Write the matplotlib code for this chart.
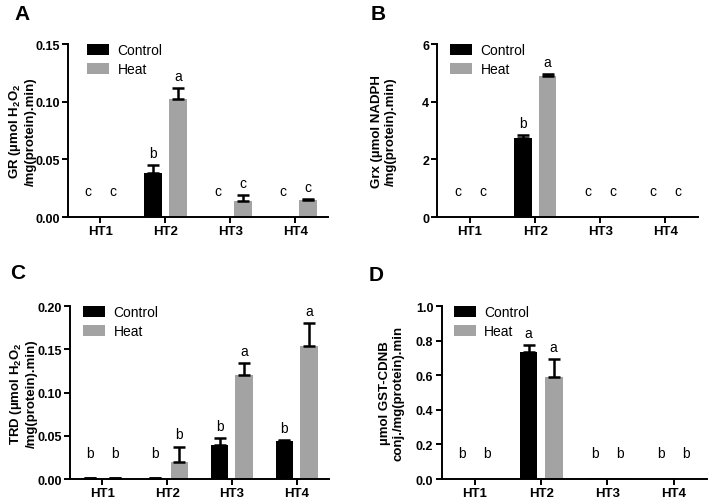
import numpy as np
import matplotlib
matplotlib.use('Agg')
import matplotlib.pyplot as plt

plt.rcParams['font.family'] = ['Liberation Sans', 'DejaVu Sans']
plt.rcParams['mathtext.fontset'] = 'custom'
plt.rcParams['mathtext.rm'] = 'Liberation Sans:bold'
plt.rcParams['mathtext.bf'] = 'Liberation Sans:bold'

groups = ['HT1', 'HT2', 'HT3', 'HT4']
series = ['Control', 'Heat']

# A - GR
gr_control = [0.0, 0.038, 0.0, 0.0]
gr_control_err = [0.0, 0.007, 0.0, 0.0]
gr_heat = [0.0, 0.102, 0.0138, 0.0144]
gr_heat_err = [0.0, 0.0095, 0.005, 0.0012]
gr_letters = [['c', 'b', 'c', 'c'], ['c', 'a', 'c', 'c']]

# B - Grx
grx_control = [0.0, 2.75, 0.0, 0.0]
grx_control_err = [0.0, 0.08, 0.0, 0.0]
grx_heat = [0.0, 4.9, 0.02, 0.02]
grx_heat_err = [0.0, 0.05, 0.0, 0.0]
grx_letters = [['c', 'b', 'c', 'c'], ['c', 'a', 'c', 'c']]

# C - TRD
trd_control = [0.0012, 0.0012, 0.0398, 0.0436]
trd_control_err = [0.0003, 0.0003, 0.0072, 0.0015]
trd_heat = [0.0008, 0.0193, 0.1205, 0.1537]
trd_heat_err = [0.0003, 0.0182, 0.0135, 0.027]
trd_letters = [['b', 'b', 'b', 'b'], ['b', 'b', 'a', 'a']]

# D - GST
gst_control = [0.0, 0.735, 0.004, 0.0]
gst_control_err = [0.0, 0.04, 0.0, 0.0]
gst_heat = [0.0, 0.59, 0.004, 0.0]
gst_heat_err = [0.0, 0.105, 0.0, 0.0]
gst_letters = [['b', 'a', 'b', 'b'], ['b', 'a', 'b', 'b']]

colors = ['#000000', '#a3a3a3']

fig = plt.figure(figsize=(7.09, 5.02), dpi=100)


def panel(rect, ctrl, ctrl_err, heat, heat_err, letters, ymax, yticks, fmt, ylabel, labx, legx):
    ax = fig.add_axes(rect)
    x = np.arange(len(groups))
    w = 0.27
    off = 0.19
    for i, (vals, errs, c) in enumerate([(ctrl, ctrl_err, colors[0]), (heat, heat_err, colors[1])]):
        xs = x + (-off if i == 0 else off)
        ax.bar(xs, vals, width=w, color=c, label=series[i], zorder=2)
        vals = np.array(vals)
        errs = np.array(errs)
        m = errs > 0
        ax.errorbar(xs[m], vals[m], yerr=[np.zeros(m.sum()), errs[m]], fmt='none',
                    ecolor='black', elinewidth=1.8, capsize=4, capthick=1.8, zorder=3)
        for j in range(len(groups)):
            y = max(vals[j] + errs[j] + 0.03 * ymax, 0.11 * ymax)
            ax.text(xs[j], y, letters[i][j], ha='center', va='bottom', fontsize=10)
    ax.set_xlim(-0.5, 3.5)
    ax.set_ylim(0, ymax)
    ax.set_xticks(x)
    ax.set_xticklabels(groups, fontsize=9.5, fontweight='bold')
    ax.set_yticks(yticks)
    ax.set_yticklabels([fmt.format(v) for v in yticks], fontsize=9, fontweight='bold')
    for s in ['top', 'right']:
        ax.spines[s].set_visible(False)
    for s in ['left', 'bottom']:
        ax.spines[s].set_linewidth(1.4)
    ax.tick_params(width=1.4, length=4, pad=2)
    ax.set_ylabel(ylabel, fontsize=9.5, fontweight='bold', linespacing=1.2)
    ax.yaxis.set_label_coords(labx, 0.5)
    ax.legend(loc='upper left', bbox_to_anchor=(legx, 1.005), frameon=False, fontsize=10,
              borderpad=0, borderaxespad=0,
              handlelength=1.6, handleheight=0.85, labelspacing=0.38, handletextpad=0.6)
    return ax


panel([0.0959, 0.5657, 0.3667, 0.3446], gr_control, gr_control_err, gr_heat, gr_heat_err,
      gr_letters, 0.15, [0, 0.05, 0.10, 0.15], '{:.2f}',
      'GR (µmol H$_\\mathbf{2}$O$_\\mathbf{2}$\n/mg(protein).min)', -0.12, 0.073)
panel([0.617, 0.5657, 0.3674, 0.3446], grx_control, grx_control_err, grx_heat, grx_heat_err,
      grx_letters, 6, [0, 2, 4, 6], '{:.0f}',
      'Grx (µmol NADPH\n/mg(protein).min)', -0.155, 0.048)
panel([0.0987, 0.0438, 0.3653, 0.3446], trd_control, trd_control_err, trd_heat, trd_heat_err,
      trd_letters, 0.20, [0, 0.05, 0.10, 0.15, 0.20], '{:.2f}',
      'TRD (µmol H$_\\mathbf{2}$O$_\\mathbf{2}$\n/mg(protein).min)', -0.125, 0.05)
panel([0.623, 0.0438, 0.3738, 0.3446], gst_control, gst_control_err, gst_heat, gst_heat_err,
      gst_letters, 1.0, [0, 0.2, 0.4, 0.6, 0.8, 1.0], '{:.1f}',
      'µmol GST-CDNB\nconj./mg(protein).min', -0.14, 0.045)

for lab, px, py in [('A', 14, 15), ('B', 371, 15), ('C', 10, 274), ('D', 369, 276)]:
    fig.text(px / 709, 1 - py / 502, lab, fontsize=15, fontweight='bold', va='center', ha='left')

fig.savefig('out.png', dpi=100)
